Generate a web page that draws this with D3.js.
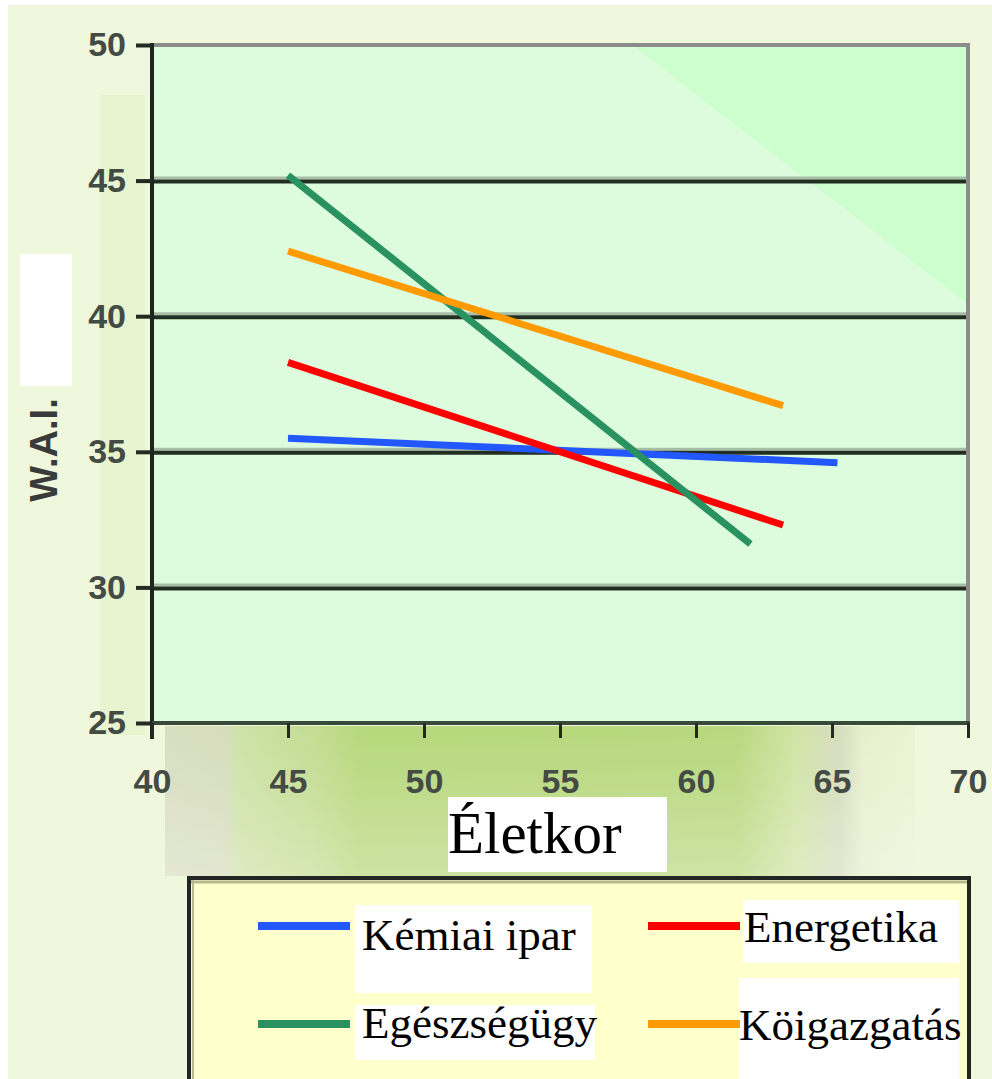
<!DOCTYPE html>
<html>
<head>
<meta charset="utf-8">
<script src="https://d3js.org/d3.v7.min.js"></script>
<style>
  body { margin: 0; background: #ffffff; }
  svg { display: block; }
</style>
</head>
<body>
<div id="chart"></div>
<script>
// series: one straight regression line per sector (start / end point)
var sectors = ["Kémiai ipar", "Energetika", "Egészségügy", "Köigazgatás"];
var colors = ["#2458ff", "#ff0000", "#2a9260", "#ff9a00"];
var startAge = [45, 45, 45, 45];
var endAge = [65.2, 63.2, 62.0, 63.2];
var startWAI = [35.5, 38.3, 45.2, 42.4];
var endWAI = [34.6, 32.3, 31.6, 36.7];

var xTicks = [40, 45, 50, 55, 60, 65, 70];
var yTicks = [25, 30, 35, 40, 45, 50];

var W = 992, H = 1079;
var pLeft = 152, pRight = 968, pTop = 45, pBottom = 723;

var svg = d3.select("#chart").append("svg")
  .attr("width", W)
  .attr("height", H);

var defs = svg.append("defs");
var band = defs.append("linearGradient").attr("id", "band");
[[0, "#d8dec0"], [0.08, "#d6dcbc"], [0.1, "#cde2a6"], [0.2, "#c3dd92"],
 [0.26, "#b7d87c"], [0.76, "#b8d87e"], [0.84, "#cfe4a4"], [0.9, "#d6dcbe"],
 [0.93, "#e6efcc"], [1, "#eaf3d2"]].forEach(function (s) {
  band.append("stop").attr("offset", s[0]).attr("stop-color", s[1]);
});
var fade = defs.append("linearGradient").attr("id", "fade")
  .attr("x1", 0).attr("x2", 0).attr("y1", 0).attr("y2", 1);
fade.append("stop").attr("offset", 0).attr("stop-color", "#ffffff").attr("stop-opacity", 0);
fade.append("stop").attr("offset", 0.4).attr("stop-color", "#ffffff").attr("stop-opacity", 0.1);
fade.append("stop").attr("offset", 1).attr("stop-color", "#ffffff").attr("stop-opacity", 0.3);

// outer background
svg.append("rect").attr("x", 8).attr("y", 5).attr("width", W - 8).attr("height", H - 5)
  .attr("fill", "#eff7dc");
svg.append("rect").attr("x", 100).attr("y", 95).attr("width", 45).attr("height", 640)
  .attr("fill", "#e8f3d0");

// green band under the plot
svg.append("rect").attr("x", 165).attr("y", 726).attr("width", 750).attr("height", 150)
  .attr("fill", "url(#band)");
svg.append("rect").attr("x", 165).attr("y", 726).attr("width", 750).attr("height", 150)
  .attr("fill", "url(#fade)");

var x = d3.scaleLinear().domain([40, 70]).range([pLeft, pRight]);
var y = d3.scaleLinear().domain([25, 50]).range([pBottom, pTop]);

// plot area
svg.append("rect")
  .attr("x", x(40)).attr("y", y(50))
  .attr("width", x(70) - x(40)).attr("height", y(25) - y(50))
  .attr("fill", "#ddfcdd");
svg.append("path")
  .attr("d", "M" + (pLeft + 0.588 * (pRight - pLeft)) + "," + pTop +
    "L" + pRight + "," + pTop + "L" + pRight + "," + (pTop + 0.382 * (pBottom - pTop)) + "Z")
  .attr("fill", "#cdfecd");

// gridlines
var inner = yTicks.filter(function (d) { return d > 25 && d < 50; });
var grid = svg.append("g");
grid.selectAll("line.hi")
  .data(inner)
  .enter().append("line")
  .attr("x1", pLeft).attr("x2", pRight)
  .attr("y1", function (d) { return y(d) - 2.5; })
  .attr("y2", function (d) { return y(d) - 2.5; })
  .attr("stroke", "#a6bea6").attr("stroke-width", 3);
grid.selectAll("line.main")
  .data(inner)
  .enter().append("line")
  .attr("x1", pLeft).attr("x2", pRight)
  .attr("y1", function (d) { return y(d) + 1; })
  .attr("y2", function (d) { return y(d) + 1; })
  .attr("stroke", "#222e22").attr("stroke-width", 4);

// frame top / right
svg.append("line").attr("x1", pLeft).attr("x2", pRight + 2)
  .attr("y1", y(50)).attr("y2", y(50))
  .attr("stroke", "#8c8c8c").attr("stroke-width", 4);
svg.append("line").attr("x1", pRight).attr("x2", pRight)
  .attr("y1", y(50)).attr("y2", y(25))
  .attr("stroke", "#8c8c8c").attr("stroke-width", 4);

// lines
svg.append("g").selectAll("line")
  .data(sectors)
  .enter().append("line")
  .attr("x1", function (d, i) { return x(startAge[i]); })
  .attr("y1", function (d, i) { return y(startWAI[i]); })
  .attr("x2", function (d, i) { return x(endAge[i]); })
  .attr("y2", function (d, i) { return y(endWAI[i]); })
  .attr("stroke", function (d, i) { return colors[i]; })
  .attr("stroke-width", 7);

// axes
var yAxis = svg.append("g")
  .attr("transform", "translate(" + pLeft + ",0)")
  .call(d3.axisLeft(y).tickValues(yTicks).tickSize(16).tickPadding(10));
var xAxis = svg.append("g")
  .attr("transform", "translate(0," + pBottom + ")")
  .call(d3.axisBottom(x).tickValues(xTicks).tickSize(15).tickPadding(31));

yAxis.select(".domain").attr("d", "M0," + (pTop - 2) + "V" + (pBottom + 16))
  .attr("stroke", "#1c261c").attr("stroke-width", 4);
yAxis.selectAll(".tick line").attr("stroke", "#222a22").attr("stroke-width", 4);
xAxis.select(".domain").attr("d", "M" + pLeft + ",0H" + (pRight + 2))
  .attr("stroke", "#3a4a3a").attr("stroke-width", 4);
xAxis.selectAll(".tick line").attr("stroke", "#222a22").attr("stroke-width", 3);
svg.selectAll(".tick text")
  .attr("font-family", "Liberation Sans, Arial, sans-serif")
  .attr("font-size", 34)
  .attr("font-weight", "bold")
  .attr("fill", "#444a44");

// y title
svg.append("rect").attr("x", 20).attr("y", 254).attr("width", 52).attr("height", 132)
  .attr("fill", "#ffffff");
svg.append("text")
  .attr("transform", "translate(57,450) rotate(-90)")
  .attr("text-anchor", "middle")
  .attr("font-family", "Liberation Sans, Arial, sans-serif")
  .attr("font-weight", "bold")
  .attr("font-size", 38)
  .attr("fill", "#3a3a3a")
  .text("W.A.I.");

// x title
svg.append("rect").attr("x", 448).attr("y", 797).attr("width", 219).attr("height", 75)
  .attr("fill", "#ffffff");
svg.append("text")
  .attr("x", 448).attr("y", 853)
  .attr("font-family", "Liberation Serif, Times New Roman, serif")
  .attr("font-size", 59)
  .attr("fill", "#000")
  .text("Életkor");

// legend
var lg = svg.append("g");
lg.append("rect").attr("x", 189).attr("y", 878).attr("width", 780).attr("height", 210)
  .attr("fill", "#ffffcc").attr("stroke", "#222622").attr("stroke-width", 4);
lg.append("line").attr("x1", 191).attr("x2", 967).attr("y1", 882).attr("y2", 882)
  .attr("stroke", "#b8b890").attr("stroke-width", 3);
lg.append("line").attr("x1", 193).attr("x2", 193).attr("y1", 880).attr("y2", 1079)
  .attr("stroke", "#b8b890").attr("stroke-width", 2);

var legX = [258, 648, 258, 648];
var legY = [926, 926, 1024, 1024];
var legOrder = [0, 1, 2, 3];
var boxes = [[355, 905, 237, 88], [743, 900, 216, 63], [355, 1005, 240, 55], [739, 978, 220, 101]];
var textX = [362, 744, 362, 739];
var textY = [950, 942, 1038, 1040];

lg.selectAll("rect.bg").data(legOrder).enter().append("rect")
  .attr("x", function (i) { return boxes[i][0]; })
  .attr("y", function (i) { return boxes[i][1]; })
  .attr("width", function (i) { return boxes[i][2]; })
  .attr("height", function (i) { return boxes[i][3]; })
  .attr("fill", "#ffffff");
lg.selectAll("line.key").data(legOrder).enter().append("line")
  .attr("x1", function (i) { return legX[i]; })
  .attr("x2", function (i) { return legX[i] + 92; })
  .attr("y1", function (i) { return legY[i]; })
  .attr("y2", function (i) { return legY[i]; })
  .attr("stroke", function (i) { return colors[i]; })
  .attr("stroke-width", 8);
lg.selectAll("text").data(legOrder).enter().append("text")
  .attr("x", function (i) { return textX[i]; })
  .attr("y", function (i) { return textY[i]; })
  .attr("font-family", "Liberation Serif, Times New Roman, serif")
  .attr("font-size", 45)
  .attr("fill", "#000")
  .text(function (i) { return sectors[i]; });
</script>
</body>
</html>
